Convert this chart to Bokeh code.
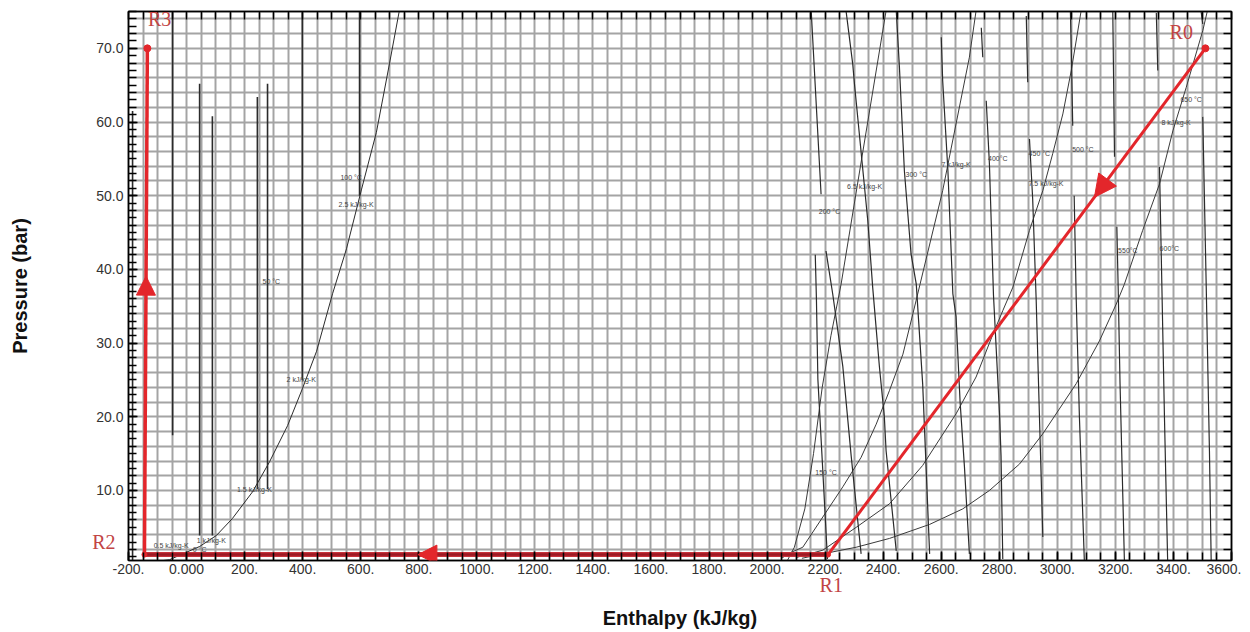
import numpy as np
from bokeh.plotting import figure
from bokeh.models import FixedTicker, LinearAxis, Range1d, Arrow, NormalHead, Label
from bokeh.core.properties import value
from bokeh.embed import file_html
from bokeh.resources import INLINE

nan = np.nan

# ---------------- data ----------------
# thermodynamic cycle points (enthalpy kJ/kg, pressure bar)
cycle_names = ["R0", "R1", "R2", "R3"]
cycle_h = [3510, 2210, -145, -135]
cycle_p = [70.0, 1.3, 1.3, 70.0]
arrow_frac = [0.294, 0.60, 0.55]          # where the arrow sits on each leg
label_h = [3427, 2221, -294, -93]
label_p = [72.2, -3.3, 3.05, 74.0]

# tick labels
x_major = list(range(-200, 3601, 200))
x_tick_labels = ["-200.", "0.000"] + [f"{v}." for v in range(200, 3601, 200)]
y_major = [10, 20, 30, 40, 50, 60, 70]
y_tick_labels = ["10.0", "20.0", "30.0", "40.0", "50.0", "60.0", "70.0"]

# saturated-liquid / liquid isentrope curve
liq_h = [-80, -59, 45, 103, 158, 227, 286, 348, 399, 448, 503, 551, 603, 654, 699, 733]
liq_p = [0.5, 0.6, 2.4, 3.9, 6.2, 9.8, 13.9, 18.8, 23.8, 28.9, 36.7, 42.8, 50.9, 58.6, 67.9, 75.1]

# compressed-liquid isotherms (vertical segments)
liq_iso_h = [-186, -48, 45, 89, 244, 279, 399, 596]
liq_iso_lo = [0.5, 17.5, 3.9, 3.9, 10.2, 10.2, 25.0, 50.0]
liq_iso_hi = [61.5, 75.0, 65.2, 60.8, 63.4, 65.2, 75.0, 75.0]

# vapour isentropes
s65_h = [2070, 2094, 2130, 2160, 2190, 2220, 2255, 2330, 2410]
s65_p = [0.5, 2.3, 7.5, 15.0, 24.0, 31.0, 38.0, 56.0, 75.1]
s7_h = [2050, 2077, 2123, 2192, 2261, 2324, 2376, 2422, 2468, 2508, 2605, 2697, 2720]
s7_p = [0.8, 1.5, 2.3, 6.4, 10.5, 14.5, 19.0, 23.6, 28.5, 34.9, 50.7, 68.8, 75.1]
s75_h = [2100, 2192, 2307, 2422, 2536, 2651, 2720, 2778, 2812, 2847, 2904, 2950, 2984, 3019, 3048, 3082]
s75_p = [0.9, 1.9, 5.0, 8.2, 13.4, 20.4, 25.4, 31.2, 34.4, 37.6, 45.3, 50.7, 55.7, 61.1, 67.0, 75.1]
s8_h = [2120, 2192, 2307, 2422, 2560, 2674, 2766, 2870, 2950, 3065, 3145, 3203, 3231, 3294, 3352, 3398, 3444, 3501, 3517]
s8_p = [0.8, 1.4, 2.3, 3.5, 5.4, 7.5, 10.0, 13.6, 17.7, 24.5, 30.3, 35.3, 38.0, 45.3, 51.6, 58.8, 64.7, 72.4, 75.1]

# vapour isotherms (nan = gap)
t150_h = [2166, 2170, 2175, 2191, 2208]
t150_p = [42.0, 36.0, 25.1, 13.4, 0.7]
t200_h = [2152, 2186, nan, 2203, 2226, 2261, 2290, 2311, 2324]
t200_p = [75.1, 50.2, nan, 42.5, 36.7, 26.8, 14.6, 6.4, 1.4]
t250_h = [2272, 2295, 2301, 2347, 2364, 2387, 2404, 2410, 2445]
t250_p = [75.1, 67.9, 65.2, 46.6, 37.5, 26.8, 20.0, 15.4, 1.8]
t300_h = [2445, 2456, 2473, 2496, 2514, 2536, 2560]
t300_p = [75.1, 67.4, 53.4, 42.1, 38.0, 24.5, 1.4]
t350_h = [2600, 2605, 2623, 2640, 2651, 2665, 2680, 2697]
t350_p = [71.5, 65.6, 53.4, 36.7, 33.6, 22.0, 13.2, 1.4]
t400_h = [2738, 2743, nan, 2755, 2766, 2780, 2801, 2806, 2812]
t400_p = [72.8, 68.8, nan, 62.9, 54.3, 36.5, 20.2, 14.7, 0.7]
t450_h = [2893, 2898, nan, 2904, 2915, 2927, 2950]
t450_p = [74.4, 65.4, nan, 57.7, 49.6, 36.0, 3.7]
t500_h = [3045, 3048, 3053, nan, 3058, 3065, 3076, 3093]
t500_p = [75.0, 69.9, 59.5, nan, 50.0, 36.0, 20.0, 0.5]
t550_h = [3191, 3197, nan, 3205, 3210, 3216, 3231]
t550_p = [75.0, 55.3, nan, 45.8, 36.7, 24.5, 0.5]
t600_h = [3341, 3346, nan, 3352, 3360, 3369, 3380]
t600_p = [74.8, 67.0, nan, 53.9, 38.0, 20.0, 0.5]
t650_h = [3495, 3501, nan, 3501, 3513, 3524, 3530]
t650_p = [75.1, 73.3, nan, 60.7, 37.5, 15.4, 0.5]

# curve labels
curve_lbl = ["100 °C", "2.5 kJ/kg-K", "50 °C", "2 kJ/kg-K", "1.5 kJ/kg-K", "1 kJ/kg-K",
             "0.5 kJ/kg-K", "0 °C",
             "150 °C", "200 °C", "6.5 kJ/kg-K", "300 °C", "7 kJ/kg-K", "400°C", "450 °C",
             "500 °C", "7.5 kJ/kg-K", "650 °C", "8 kJ/kg-K", "550°C", "600°C"]
curve_lbl_h = [567, 584, 292, 395, 234, 85, -53, 45,
               2203, 2215, 2336, 2514, 2651, 2795, 2938, 3088, 2961, 3461, 3409, 3243, 3386]
curve_lbl_p = [52.5, 48.8, 38.3, 25.1, 10.2, 3.2, 2.5, 2.0,
               12.5, 47.9, 51.2, 52.9, 54.3, 55.1, 55.7, 56.3, 51.6, 63.1, 60.0, 42.5, 42.9]

# ---------------- figure ----------------
RED = "#e3262b"
DARKRED = "#9c1a24"
LBLRED = "#c24444"
GRID = "#a4a4a4"
CURVE = "#2b2b2b"

p = figure(width=1241, height=631, x_range=Range1d(-200, 3600), y_range=Range1d(0.5, 75),
           output_backend="svg", toolbar_location=None,
           min_border_left=128, min_border_right=10, min_border_top=11, min_border_bottom=0)
p.outline_line_color = "black"
p.outline_line_width = 1.5
p.background_fill_color = "white"

x_minor = list(range(-200, 3601, 50))
y_minor_left = list(range(0, 76, 1))
y_minor_right = list(range(0, 76, 2))

xa = p.xaxis[0]
xa.ticker = FixedTicker(ticks=x_major, minor_ticks=x_minor)
xa.major_label_overrides = {t: s for t, s in zip(x_major, x_tick_labels)}
ya = p.yaxis[0]
ya.ticker = FixedTicker(ticks=y_major, minor_ticks=y_minor_left)
ya.major_label_overrides = {t: s for t, s in zip(y_major, y_tick_labels)}

for ax in (xa, ya):
    ax.major_tick_in = 9
    ax.major_tick_out = 0
    ax.minor_tick_in = 8
    ax.minor_tick_out = 0
    ax.major_tick_line_color = "black"
    ax.minor_tick_line_color = "black"
    ax.major_tick_line_width = 1.5
    ax.minor_tick_line_width = 1.5
    ax.axis_line_color = "black"
    ax.axis_line_width = 1.5
    ax.major_label_text_font = "Liberation Sans"
    ax.major_label_text_font_size = "14px"
    ax.major_label_text_color = "#333333"
xa.major_label_standoff = 3
ya.major_label_standoff = 5

# second axes carry the red point names (outside the frame) and the axis titles
def name_axis(ticks, names, standoff, title, title_standoff):
    ax = LinearAxis(ticker=FixedTicker(ticks=ticks))
    ax.major_label_overrides = {t: s for t, s in zip(ticks, names)}
    ax.axis_line_color = None
    ax.major_tick_line_color = None
    ax.minor_tick_line_color = None
    ax.major_tick_out = 0
    ax.major_tick_in = 0
    ax.major_label_standoff = standoff
    ax.major_label_text_font = "Liberation Serif"
    ax.major_label_text_font_size = "20px"
    ax.major_label_text_color = LBLRED
    ax.axis_label = title
    ax.axis_label_standoff = title_standoff
    ax.axis_label_text_font = "Liberation Sans"
    ax.axis_label_text_font_size = "20px"
    ax.axis_label_text_font_style = "bold"
    ax.axis_label_text_color = "#111111"
    ax.axis_label_text_line_height = 1.0
    return ax

p.add_layout(name_axis([label_h[1]], [cycle_names[1]], -3, "Enthalpy (kJ/kg)", 8), "below")
p.add_layout(name_axis([label_p[2]], [cycle_names[2]], -22, "Pressure (bar)", 58), "left")

for loc, tk in (("right", y_minor_right), ("above", x_minor)):
    ax = LinearAxis(ticker=FixedTicker(ticks=[], minor_ticks=tk))
    ax.minor_tick_in = 8
    ax.minor_tick_out = 0
    ax.major_tick_in = 0
    ax.major_tick_out = 0
    ax.minor_tick_line_color = "black"
    ax.minor_tick_line_width = 1.5
    ax.axis_line_color = "black"
    ax.axis_line_width = 1.5
    ax.major_label_text_font_size = "0px"
    ax.major_label_standoff = 0
    p.add_layout(ax, loc)

p.xgrid.ticker = FixedTicker(ticks=x_minor)
p.ygrid.ticker = FixedTicker(ticks=y_minor_right)
for g in (p.xgrid, p.ygrid):
    g.grid_line_color = GRID
    g.grid_line_width = 2
    g.level = "underlay"

# ---------------- curves ----------------
p.line(liq_h, liq_p, line_color=CURVE, line_width=1)
p.segment(x0=liq_iso_h, y0=liq_iso_lo, x1=liq_iso_h, y1=liq_iso_hi, line_color=CURVE, line_width=1.6)

for hh, pp in ((s65_h, s65_p), (s7_h, s7_p), (s75_h, s75_p), (s8_h, s8_p)):
    p.line(hh, pp, line_color="#3a3a3a", line_width=1)

for hh, pp in ((t150_h, t150_p), (t200_h, t200_p), (t250_h, t250_p), (t300_h, t300_p),
               (t350_h, t350_p), (t400_h, t400_p), (t450_h, t450_p), (t500_h, t500_p),
               (t550_h, t550_p), (t600_h, t600_p), (t650_h, t650_p)):
    p.line(hh, pp, line_color=CURVE, line_width=1.2)

p.text(x=curve_lbl_h, y=curve_lbl_p, text=curve_lbl, text_font=value("Liberation Sans"),
       text_font_size="7px", text_color="#444444", text_align="center", text_baseline="middle")

# ---------------- cycle ----------------
p.line(cycle_h[0:2], cycle_p[0:2], line_color=RED, line_width=3)
p.line(cycle_h[1:3], cycle_p[1:3], line_color="#c8323a", line_width=5)
p.line(cycle_h[1:3], cycle_p[1:3], line_color=DARKRED, line_width=2.5)
p.line(cycle_h[2:4], cycle_p[2:4], line_color=RED, line_width=3.5)
p.scatter([cycle_h[0], cycle_h[3]], [cycle_p[0], cycle_p[3]], size=7, color=RED)
p.scatter([cycle_h[1], cycle_h[2]], [cycle_p[1], cycle_p[2]], size=5, color=RED)

head_sizes = [22, 19, 19]
for i, f in enumerate(arrow_frac):
    j = i + 1
    xe = cycle_h[i] + f * (cycle_h[j] - cycle_h[i])
    ye = cycle_p[i] + f * (cycle_p[j] - cycle_p[i])
    xs = cycle_h[i] + (f - 0.02) * (cycle_h[j] - cycle_h[i])
    ys = cycle_p[i] + (f - 0.02) * (cycle_p[j] - cycle_p[i])
    p.add_layout(Arrow(end=NormalHead(size=head_sizes[i], fill_color=RED, line_color=RED),
                       x_start=xs, y_start=ys, x_end=xe, y_end=ye, line_alpha=0))

# names that sit inside the frame
for k in (0, 3):
    p.add_layout(Label(x=label_h[k], y=label_p[k], text=cycle_names[k], text_font="Liberation Serif",
                       text_font_size="20px", text_color=LBLRED, text_align="center",
                       text_baseline="middle"))

open("out.html", "w").write(file_html(p, INLINE))
